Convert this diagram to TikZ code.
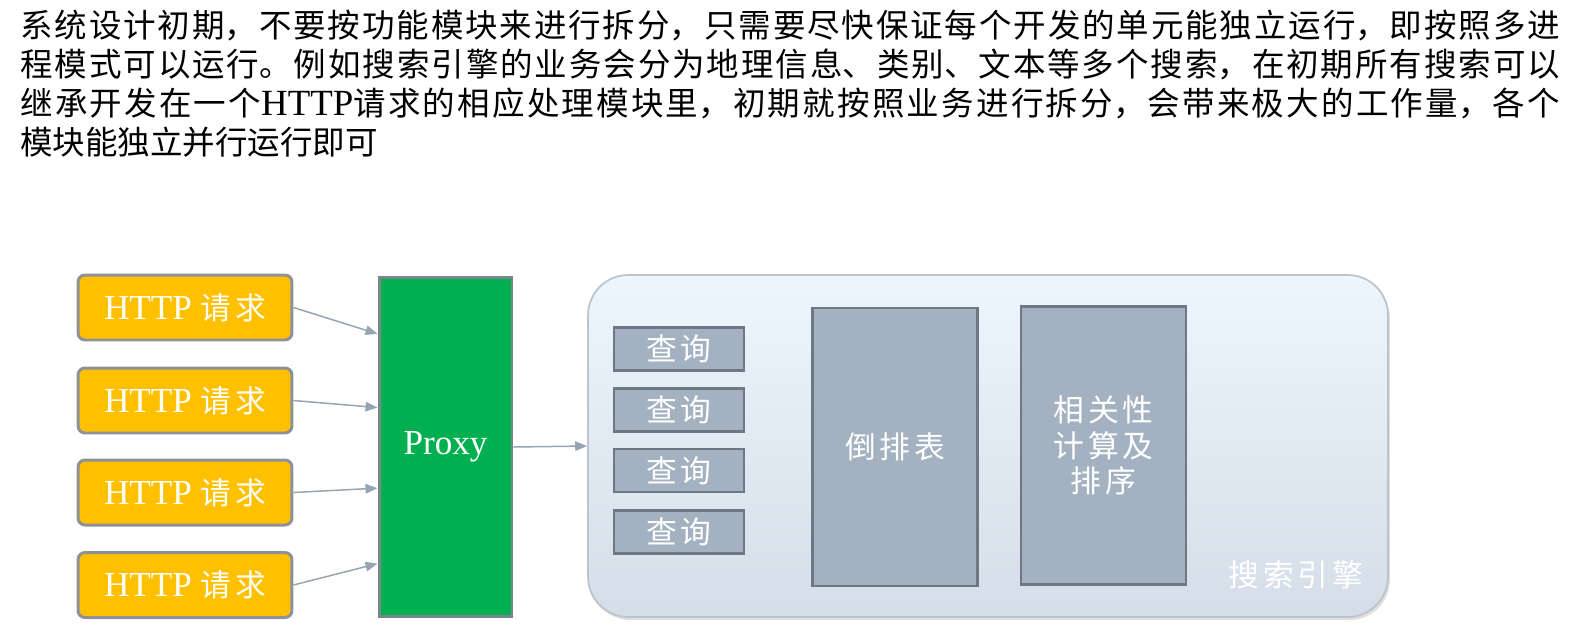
\documentclass[tikz,border=0pt]{standalone}
\usepackage{fontspec}
\setmainfont{Liberation Serif}
\newfontfamily\cjk{Noto Sans CJK SC}
\newfontfamily\cjkwide[LetterSpace=12]{Noto Sans CJK SC}
\newfontfamily\latinserif{Liberation Serif}
\usetikzlibrary{arrows.meta,calc,shadows}

\definecolor{reqfill}{HTML}{FFC000}
\definecolor{reqline}{HTML}{8E9196}
\definecolor{proxyfill}{HTML}{00B050}
\definecolor{proxyline}{HTML}{7A868E}
\definecolor{flowline}{HTML}{97A4B4}
\definecolor{modfill}{HTML}{A3B1C1}
\definecolor{modline}{HTML}{6E7884}
\definecolor{enginetop}{HTML}{EDF6FD}
\definecolor{enginebot}{HTML}{D5DDE8}
\definecolor{engineline}{HTML}{BCC3CC}

\newcommand\zhtext[1]{{\cjkwide\fontsize{17.5}{20}\selectfont #1}}

\tikzset{
  search flow/.style={
    x=0.02cm, y=-0.02cm,
    every node/.style={inner sep=0pt},
  },
  para/.style={
    anchor=north west,
    text width=30.8cm,
    align=justify,
    font=\cjk\fontsize{18.5}{22.1}\selectfont,
  },
  reqbox/.style={
    draw=reqline, line width=1.7pt, fill=reqfill,
    rounded corners=4pt,
    minimum width=4.28cm, minimum height=1.3cm,
    text=white, font=\fontsize{20}{22}\selectfont,
  },
  proxybox/.style={
    draw=proxyline, line width=1.7pt, fill=proxyfill,
    minimum width=2.66cm, minimum height=6.8cm,
    text=white, font=\fontsize{20}{22}\selectfont,
  },
  enginebox/.style={
    draw=engineline, line width=1pt,
    rounded corners=0.8cm,
    top color=enginetop, bottom color=enginebot,
    drop shadow={shadow xshift=0.4mm, shadow yshift=-0.6mm, opacity=0.25},
    minimum width=16cm, minimum height=6.84cm,
  },
  querybox/.style={
    draw=modline, line width=1.5pt, fill=modfill,
    minimum width=2.6cm, minimum height=0.86cm,
    text=white,
  },
  modbox/.style={
    draw=modline, line width=1.5pt, fill=modfill,
    minimum width=3.3cm, minimum height=5.56cm,
    text=white, align=center,
  },
  flow/.style={
    draw=flowline, line width=0.85pt,
    -{Triangle[length=0.24cm, width=0.19cm]},
  },
}

\begin{document}
\begin{tikzpicture}[
  search flow,
]
\useasboundingbox (0,0) rectangle (1581,640);

\node[para] (intro) at (20,10) {%
  \XeTeXlinebreaklocale "zh"\XeTeXlinebreakskip=0pt plus 1fil
  \noindent
  系统设计初期，不要按功能模块来进行拆分，只需要尽快保证每个开发的单元能独立运行，即按照多进\linebreak
  程模式可以运行。例如搜索引擎的业务会分为地理信息、类别、文本等多个搜索，在初期所有搜索可以\linebreak
  继承开发在一个{\latinserif\fontsize{21}{22}\selectfont HTTP}请求的相应处理模块里，初期就按照业务进行拆分，会带来极大的工作量，各个\linebreak
  模块能独立并行运行即可\hskip 0pt plus 1fill\kern0pt};

% requests and proxy
\foreach \i/\y in {1/307.5,2/400.5,3/492.5,4/585}
  \node[reqbox] (req\i) at (185,\y) {HTTP \zhtext{请求}};
\node[proxybox] (proxy) at (445.5,447) {Proxy};

% search engine
\node[enginebox] (engine) at (988,446) {};
\foreach \i/\y in {1/349,2/410,3/470.5,4/532}
  \node[querybox] (q\i) at (679,\y) {\zhtext{查询}};
\node[modbox] (invindex) at (895,447) {\zhtext{倒排表}};
\node[modbox] (ranking) at (1103.5,445.5)
  {\zhtext{相关性}\\[3pt]\zhtext{计算及}\\[3pt]\zhtext{排序}};
\node[text=white] (englabel) at (1296,575) {\zhtext{搜索引擎}};

\foreach \i/\f in {1/0.17,2/0.385,3/0.62,4/0.84}
  \draw[flow] (req\i.east) -- ($(proxy.north west)!\f!(proxy.south west)$);
\draw[flow] (proxy.east) -- (engine.west);
\end{tikzpicture}
\end{document}
